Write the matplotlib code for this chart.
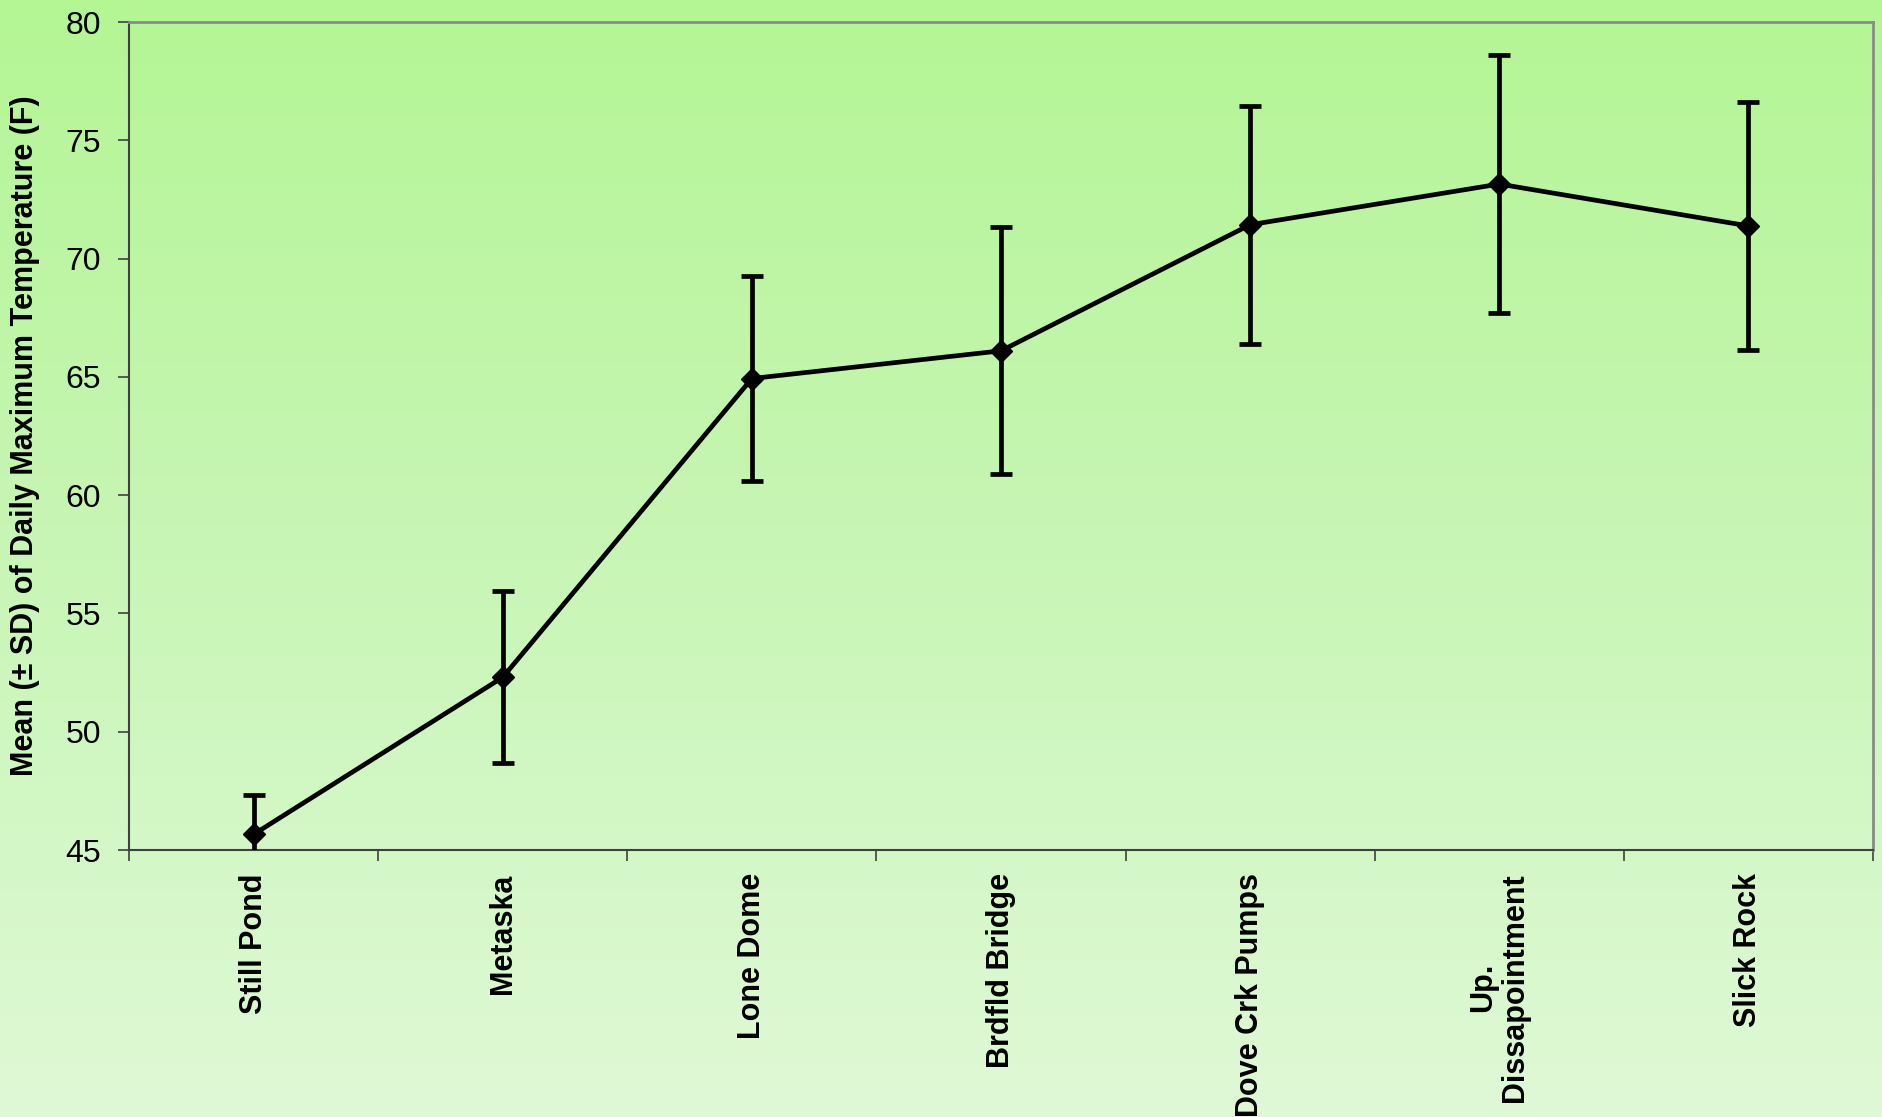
import numpy as np
import matplotlib
matplotlib.use("Agg")
import matplotlib.pyplot as plt
from matplotlib.colors import LinearSegmentedColormap

plt.rcParams["font.family"] = ["Liberation Sans", "DejaVu Sans"]

# site means and standard deviations of daily max temperature (F)
sites = ["Still Pond", "Metaska", "Lone Dome", "Brdfld Bridge",
         "Dove Crk Pumps", "Up.\nDissapointment", "Slick Rock"]
mean_temp = [45.66, 52.30, 64.93, 66.10, 71.43, 73.15, 71.38]
sd_temp = [1.67, 3.63, 4.32, 5.22, 5.02, 5.45, 5.25]

W, H = 1883, 1117
fig = plt.figure(figsize=(W / 100, H / 100), dpi=100)

# vertical green gradient behind everything
bg = fig.add_axes([0, 0, 1, 1], zorder=-10)
grad = LinearSegmentedColormap.from_list("bg", ["#dff9d6", "#c8f6b6", "#b4f594"])
bg.imshow(np.linspace(0, 1, 256).reshape(-1, 1), aspect="auto", cmap=grad,
          origin="lower", extent=[0, 1, 0, 1])
bg.axis("off")

ax = fig.add_axes([129 / W, 1 - 850 / H, (1873 - 129) / W, (850 - 22) / H])
ax.patch.set_alpha(0)

x = np.arange(1, len(sites) + 1)
ax.errorbar(x, mean_temp, yerr=sd_temp, color="black", lw=3.4, marker="D", ms=11,
            elinewidth=3.4, capsize=8, capthick=3.4, clip_on=True, zorder=3)

ax.set_xlim(0.5, len(sites) + 0.5)
ax.set_ylim(45, 80)
ax.set_yticks(range(45, 81, 5))
ax.tick_params(axis="y", labelsize=23, length=8, width=1.2, pad=12, color="#404040")

# category boundaries carry the ticks, labels sit at the centres
ax.set_xticks(np.arange(0.5, len(sites) + 1, 1.0))
ax.set_xticklabels([])
ax.tick_params(axis="x", length=8, width=1.2, color="#404040")
for xi, s in zip(x, sites):
    ax.text(xi, -0.028, s, transform=ax.get_xaxis_transform(), rotation=90,
            ha="center", va="top", ma="center", fontsize=22, fontweight="bold",
            linespacing=1.1)

ax.set_ylabel("Mean (± SD) of Daily Maximum Temperature (F)", fontsize=22,
              fontweight="bold")
ax.yaxis.set_label_coords(-89 / (1873 - 129), 0.5)

for side in ("left", "bottom"):
    ax.spines[side].set_color("#404040")
    ax.spines[side].set_linewidth(1.5)
for side in ("top", "right"):
    ax.spines[side].set_color("#8a8a8a")
    ax.spines[side].set_linewidth(2)

fig.savefig("out.png", dpi=100)
